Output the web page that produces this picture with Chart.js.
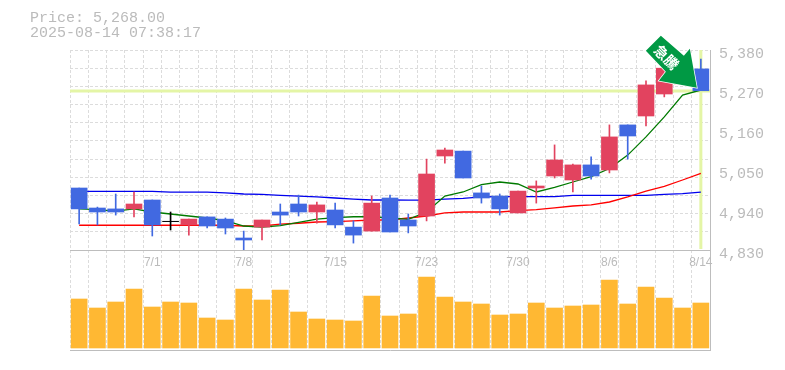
<!DOCTYPE html>
<html>
<head>
<meta charset="utf-8">
<script src="https://cdn.jsdelivr.net/npm/chart.js@4"></script>
<style>
    html, body { margin: 0; padding: 0; background: #fff; }
    #wrap { position: relative; width: 785px; height: 370px; overflow: hidden; }
    canvas { position: absolute; left: 0; top: 0; }
    .info { position: absolute; left: 30px; font: 15px "Liberation Mono", monospace; color: #bbb; line-height: 15px; white-space: pre; }
</style>
</head>
<body>
<div id="wrap">
    <canvas id="volume-chart" width="785" height="370"></canvas>
    <canvas id="price-chart" width="785" height="370"></canvas>
    <div class="info" style="top:11px">Price: 5,268.00</div>
    <div class="info" style="top:26px">2025-08-14 07:38:17</div>
</div>
<script>
const dates = ["6/25","6/26","6/27","6/30","7/1","7/2","7/3","7/4","7/7","7/8","7/9","7/10","7/11","7/14","7/15","7/16","7/17","7/18","7/22","7/23","7/24","7/25","7/28","7/29","7/30","7/31","8/1","8/4","8/5","8/6","8/7","8/8","8/12","8/13","8/14"];
const shownDates = ["7/1","7/8","7/15","7/23","7/30","8/6","8/14"];
const priceLabels = [5380, 5270, 5160, 5050, 4940, 4830];
const gridPrices = [5380, 5330, 5280, 5230, 5180, 5130, 5080, 5030, 4980, 4930, 4880, 4830];
const lastPrice = 5268;

const opens  = [5000.5,4945.5,4943,4943,4967.5,4909,4899,4921,4915,4863,4893,4934.5,4956.5,4934.5,4940,4893,4882,4973,4912.5,4923.5,5088.5,5102,4987,4978.5,4932,5000.5,5033.5,5022.5,5064,5050,5174,5198.5,5259,5286.5,5328];
const closes = [4943,4934.5,4934.5,4956.5,4899,4908,4915,4896,4890.5,4857.5,4912.5,4926,4934.5,4954,4899,4871,4959,4879.5,4896,5039,5105,5028,4973,4943,4992,5006,5077.5,5064,5033.5,5141,5143.5,5284,5330,5336,5268];
const highs  = [5000.5,4948,4984,4989.5,4967.5,4934.5,4915,4921,4918,4882,4912.5,4956.5,4981,4962,4959,4910,4978.5,4981,4929,5080,5110.5,5102,5006,4984,4992,5020,5119,5066.5,5086,5174,5174,5295,5330,5336,5355];
const lows   = [4901.5,4899,4926,4921,4868.5,4885,4871,4890.5,4874,4830,4857.5,4899,4923.5,4904,4890.5,4849,4882,4879.5,4877,4910,5069,5028,4959,4926,4932,4959,5028,4989.5,5025,5042,5080,5171,5251,5286.5,5268];

const maShort = [4943,4941,4937,4943,4934.5,4929,4923.5,4918,4911,4896,4893,4897,4906,4915,4919,4921.5,4921.5,4918,4914,4934.5,4978.5,4989.5,5010,5017,5011.5,4989.5,5002,5017,5032,5054,5091,5141,5196,5256,5270];
const maMid   = [4898,4898,4898,4898,4898,4898,4898,4898,4898,4896,4896,4901,4903.5,4907,4908,4910,4912.5,4912.5,4918,4923.5,4932,4934.5,4934.5,4934.5,4938.5,4941,4946,4951,4954,4962,4976,4992,5005,5022.5,5041];
const maLong  = [4991,4991,4991,4991,4991,4989,4989,4989,4987,4984,4983,4980,4978,4976,4973,4970,4967.5,4967.5,4967,4967,4970,4972,4976,4977,4977,4977,4977,4980,4980,4980,4980,4980,4983,4985,4989];

const volumes = [490000,400000,460000,590000,410000,460000,450000,300000,280000,590000,480000,580000,360000,290000,280000,270000,520000,320000,340000,710000,510000,460000,440000,330000,340000,450000,400000,420000,430000,680000,440000,610000,500000,400000,450000];

const gridColor = "#dcdcdc";
const axisColor = "#bdbdbd";
const textColor = "#bbbbbb";
const upColor = "#e2435f";
const downColor = "#4169e1";
const guideColor = "#e4f5a6";

function candleColor(i) {
    if (Math.abs(opens[i] - closes[i]) < 2) return "#000000";
    return closes[i] > opens[i] ? upColor : downColor;
}

function lineSet(label, values, color) {
    return {
        type: "line",
        label: label,
        data: values,
        borderColor: color,
        borderWidth: 1.3,
        pointRadius: 0,
        tension: 0,
        order: 3,
    };
}

// yellow guides for the current price and the last session, under the candles
const guidePlugin = {
    id: "guides",
    beforeDatasetsDraw(chart) {
        const { ctx, chartArea, scales } = chart;
        const px = scales.x.getPixelForValue(dates.length - 1);
        const py = Math.round(scales.y.getPixelForValue(lastPrice));
        ctx.save();
        ctx.strokeStyle = guideColor;
        ctx.lineWidth = 3;
        ctx.beginPath();
        ctx.moveTo(chartArea.left, py);
        ctx.lineTo(chartArea.right, py);
        ctx.moveTo(px, chartArea.top);
        ctx.lineTo(px, chartArea.bottom - 1);
        ctx.stroke();
        ctx.restore();
    },
};

// green signal arrow, pinned to the last close
const arrowPlugin = {
    id: "arrow",
    afterDraw(chart) {
        const { ctx, scales } = chart;
        const tipX = scales.x.getPixelForValue(dates.length - 1) - 4;
        const tipY = scales.y.getPixelForValue(lastPrice) - 3;
        const shape = [[0, 0], [-38, -7], [-31, -16], [-51, -37], [-36, -52], [-13, -32], [-7, -39]];
        ctx.save();
        ctx.translate(tipX, tipY);
        ctx.beginPath();
        shape.forEach((p, i) => (i ? ctx.lineTo(p[0], p[1]) : ctx.moveTo(p[0], p[1])));
        ctx.closePath();
        ctx.fillStyle = "#009944";
        ctx.strokeStyle = "#ffffff";
        ctx.lineWidth = 1.5;
        ctx.stroke();
        ctx.fill();
        ctx.rotate(Math.PI / 4);
        ctx.fillStyle = "#ffffff";
        ctx.font = 'bold 14px "Noto Sans CJK JP"';
        ctx.textAlign = "center";
        ctx.textBaseline = "middle";
        ctx.fillText("急騰", -43, 0);
        ctx.restore();
    },
};

const priceCanvas = document.querySelector("#price-chart");
new Chart(priceCanvas.getContext("2d"), {
    type: "bar",
    data: {
        labels: dates,
        datasets: [
            lineSet("MA short", maShort, "#007a00"),
            lineSet("MA mid", maMid, "#ff0000"),
            lineSet("MA long", maLong, "#0000ee"),
            {
                label: "Range",
                data: dates.map((d, i) => [lows[i], highs[i]]),
                backgroundColor: dates.map((d, i) => candleColor(i)),
                barThickness: 1,
                grouped: false,
                order: 2,
            },
            {
                label: "Body",
                data: dates.map((d, i) => [opens[i], closes[i]]),
                backgroundColor: dates.map((d, i) => candleColor(i)),
                barThickness: 16,
                grouped: false,
                order: 1,
            },
        ],
    },
    options: {
        responsive: false,
        animation: false,
        layout: { padding: { left: 70, top: 50, bottom: 100, right: 0 } },
        plugins: { legend: { display: false }, tooltip: { enabled: false } },
        scales: {
            x: {
                grid: { color: gridColor, drawTicks: false, offset: true },
                border: { color: axisColor, dash: [3, 2] },
                ticks: {
                    autoSkip: false,
                    maxRotation: 0,
                    padding: 5,
                    color: textColor,
                    font: { family: "Liberation Sans", size: 12 },
                    callback(value) {
                        const label = dates[value];
                        return shownDates.includes(label) ? label : "";
                    },
                },
                afterFit(scale) { scale.height = 20; },
            },
            y: {
                position: "right",
                min: 4830,
                max: 5380,
                afterBuildTicks(scale) { scale.ticks = priceLabels.map((v) => ({ value: v })); },
                grid: { display: false, drawTicks: false },
                border: { color: axisColor },
                ticks: {
                    padding: 9,
                    labelOffset: 4,
                    color: textColor,
                    font: { family: "Liberation Mono", size: 15 },
                    callback: (value) => value.toLocaleString("en-US"),
                },
                afterFit(scale) { scale.width = 75; },
            },
            yGrid: {
                position: "left",
                min: 4830,
                max: 5380,
                afterBuildTicks(scale) { scale.ticks = gridPrices.map((v) => ({ value: v })); },
                grid: { color: gridColor, drawTicks: false },
                border: { display: false, dash: [3, 2] },
                ticks: { display: false },
                afterFit(scale) { scale.width = 0; },
            },
        },
    },
    plugins: [guidePlugin, arrowPlugin],
});

const volumeCanvas = document.querySelector("#volume-chart");
new Chart(volumeCanvas.getContext("2d"), {
    type: "bar",
    data: {
        labels: dates,
        datasets: [
            {
                label: "Volume",
                data: volumes,
                backgroundColor: "#ffb833",
                barThickness: 16,
            },
        ],
    },
    options: {
        responsive: false,
        animation: false,
        layout: { padding: { left: 70, top: 250, bottom: 20, right: 0 } },
        plugins: { legend: { display: false }, tooltip: { enabled: false } },
        scales: {
            x: {
                grid: { color: gridColor, drawTicks: false, offset: true },
                border: { color: axisColor, dash: [3, 2] },
                ticks: { display: false },
                afterFit(scale) { scale.height = 0; },
            },
            y: {
                position: "right",
                min: -20000,
                max: 980000,
                grid: { display: false, drawTicks: false },
                border: { color: axisColor },
                ticks: { display: false },
                afterFit(scale) { scale.width = 75; },
            },
        },
    },
});
</script>
</body>
</html>
